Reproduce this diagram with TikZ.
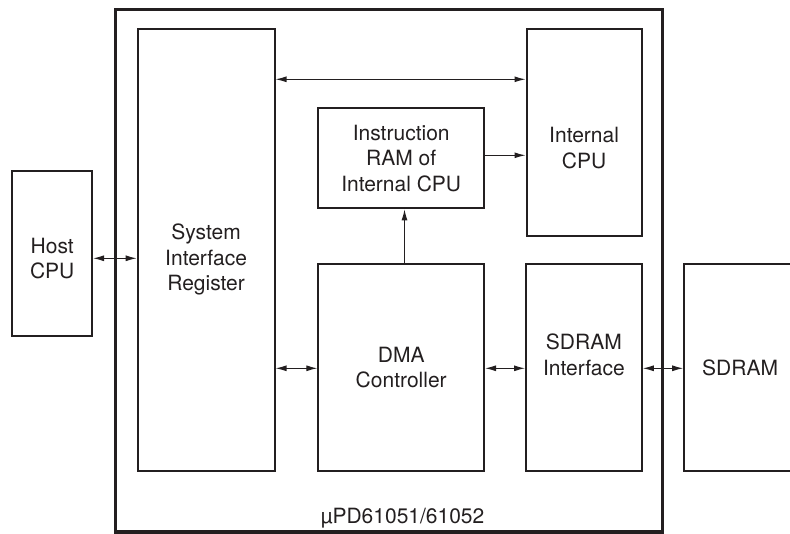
\documentclass[tikz,border=0pt]{standalone}
\usepackage{fontspec}
\setmainfont{TeX Gyre Heros}
\usetikzlibrary{arrows.meta}
\definecolor{ink}{HTML}{231F20}

\begin{document}
\begin{tikzpicture}[x=1pt, y=-1pt,
  txt/.style={align=center, text=ink, font=\fontsize{21}{25.5}\selectfont},
  blk/.style={draw=ink, line width=2pt, inner sep=0pt, txt},
  chip/.style={draw=ink, line width=3.3pt, inner sep=0pt},
  dbl/.style={draw=ink, line width=1.1pt, {Latex[length=11pt,width=6pt]}-{Latex[length=11pt,width=6pt]}},
  one/.style={draw=ink, line width=1.1pt, -{Latex[length=11pt,width=6pt]}}]
\useasboundingbox (0,0) rectangle (790,534);
\clip (0,0) rectangle (790,534);

\node[chip, minimum width=547.2, minimum height=522.5] (chip) at (389.1,270.75) {};

\node[blk, minimum width=79.7, minimum height=164.7, label={[txt, yshift=-5]center:Host\\CPU}] (host) at (52.2,253.4) {};
\node[blk, minimum width=136.8, minimum height=442.3, label={[txt, yshift=-9.6]center:System\\Interface\\Register}] (sir) at (206.1,249.9) {};
\node[blk, minimum width=115.2, minimum height=207.3, label={[txt, yshift=-15.7]center:Internal\\CPU}] (cpu) at (584.1,132.3) {};
\node[blk, minimum width=165.7, minimum height=100.3] (iram) at (401.2,158.2) {Instruction\\RAM of\\Internal CPU};
\node[blk, minimum width=165.7, minimum height=206.7] (dma) at (401.2,367.4) {DMA\\Controller};
\node[blk, minimum width=115.7, minimum height=206.7, label={[txt, yshift=12.4]center:SDRAM\\Interface}] (sif) at (583.9,367.4) {};
\node[blk, minimum width=111.8, minimum height=207] (sdram) at (740.1,367.5) {SDRAM};

\node[txt, anchor=base west, yshift=10.3] (part) at (dma.west |- chip.south) {µPD61051/61052};

\coordinate (row0) at (0,258.3);
\coordinate (row1) at (0,79.3);
\coordinate (row2) at (0,155.3);
\coordinate (row3) at (0,368.3);
\coordinate (col) at (404.5,0);

\draw[dbl] (host.east |- row0) -- (sir.west |- row0);
\draw[dbl] (sir.east |- row1) -- (cpu.west |- row1);
\draw[one] (iram.east |- row2) -- (cpu.west |- row2);
\draw[one] (dma.north -| col) -- (iram.south -| col);
\draw[dbl] (sir.east |- row3) -- (dma.west |- row3);
\draw[dbl] (dma.east |- row3) -- (sif.west |- row3);
\draw[dbl] (sif.east |- row3) -- (sdram.west |- row3);
\end{tikzpicture}
\end{document}
